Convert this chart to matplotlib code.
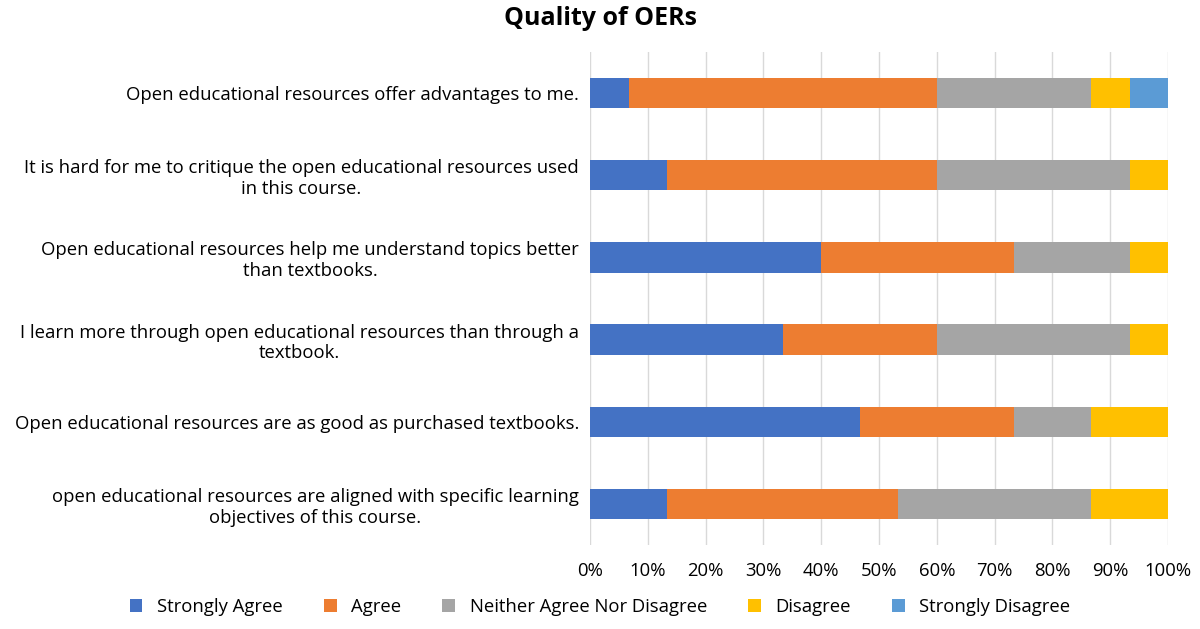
import matplotlib
matplotlib.use("Agg")
import matplotlib.pyplot as plt
import numpy as np

categories = [
    "Open educational resources offer advantages to me.",
    "It is hard for me to critique the open educational resources used\nin this course.",
    "Open educational resources help me understand topics better\nthan textbooks.",
    "I learn more through open educational resources than through a\ntextbook.",
    "Open educational resources are as good as purchased textbooks.",
    "open educational resources are aligned with specific learning\nobjectives of this course.",
]
series_names = ["Strongly Agree", "Agree", "Neither Agree Nor Disagree", "Disagree", "Strongly Disagree"]
strongly_agree = [6.67, 13.33, 40.0, 33.33, 46.67, 13.33]
agree = [53.33, 46.67, 33.33, 26.67, 26.67, 40.0]
neither = [26.67, 33.33, 20.0, 33.33, 13.33, 33.33]
disagree = [6.67, 6.67, 6.67, 6.67, 13.33, 13.33]
strongly_disagree = [6.67, 0, 0, 0, 0, 0]
colors = ["#4472C4", "#ED7D31", "#A5A5A5", "#FFC000", "#5B9BD5"]

plt.rcParams['font.family'] = ['Open Sans', 'DejaVu Sans']
fig = plt.figure(figsize=(12, 6.29), dpi=100)
ax = fig.add_axes([0.4917, 0.1335, 0.4817, 0.784])
y = np.arange(len(categories))[::-1]
left = np.zeros(len(categories))
for name, vals, c in zip(series_names, [strongly_agree, agree, neither, disagree, strongly_disagree], colors):
    v = np.array(vals)
    ax.barh(y, v, left=left, height=0.37, color=c, label=name, zorder=3)
    left += v
ax.set_xlim(0, 100)
ax.set_ylim(-0.5, len(categories) - 0.5)
ax.set_xticks(np.arange(0, 101, 10))
ax.set_xticklabels([f"{t}%" for t in range(0, 101, 10)], fontsize=13.3)
ax.set_yticks(y)
ax.set_yticklabels(categories, fontsize=13.3)
for t in ax.get_yticklabels():
    t.set_multialignment('center')
ax.grid(axis='x', color='#D9D9D9', linewidth=1, zorder=0)
for s in ax.spines.values():
    s.set_visible(False)
ax.tick_params(length=0, pad=8)
ax.tick_params(axis='x', pad=12)
fig.suptitle("Quality of OERs", fontsize=18, fontweight='bold', y=0.99, x=0.5)
fig.legend(loc='lower center', ncol=5, frameon=False, fontsize=13.3,
           bbox_to_anchor=(0.5, -0.005), handlelength=0.7, handleheight=0.7, columnspacing=2.2)
fig.savefig("out.png", dpi=100)
